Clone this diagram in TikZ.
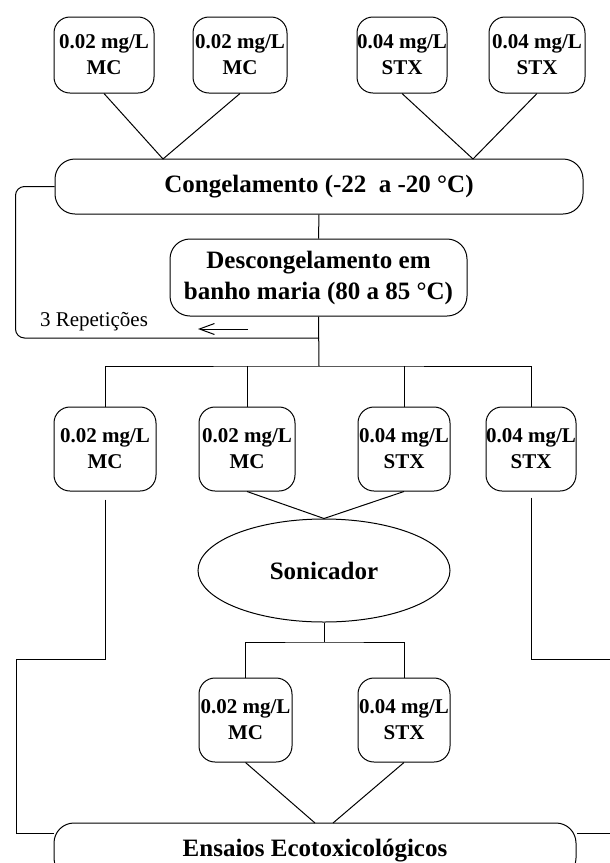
\documentclass[tikz,border=0pt]{standalone}
\usepackage{fontspec}
\setmainfont{Liberation Serif}
\usetikzlibrary{shapes.geometric,arrows.meta}

\begin{document}
\begin{tikzpicture}[
    x=1pt, y=-1pt,
    sample/.style={
        rectangle,
        rounded corners=16pt,
        minimum width=94pt,
        minimum height=80pt,
        inner sep=0pt,
        draw,
        line width=1pt,
        font=\fontsize{21}{26}\selectfont\bfseries,
        align=center
    },
    stage/.style={
        rectangle,
        rounded corners=20pt,
        inner sep=0pt,
        draw,
        line width=1pt,
        font=\fontsize{25}{31}\selectfont\bfseries,
        align=center
    },
    link/.style={line width=1pt}
]
\useasboundingbox (0,0) rectangle (610,863);
\clip (0,0) rectangle (610,863);

% Samples before freezing
\node[sample, minimum width=100pt, minimum height=76pt] (t1) at (104,55) {0.02 mg/L\\MC};
\node[sample, minimum height=76pt] (t2) at (240,55) {0.02 mg/L\\MC};
\node[sample, minimum width=90pt, minimum height=76pt] (t3) at (402,55) {0.04 mg/L\\STX};
\node[sample, minimum width=96pt, minimum height=76pt] (t4) at (537,55) {0.04 mg/L\\STX};

% Freeze / thaw
\node[stage, minimum width=528pt, minimum height=55pt] (cg) at (319,186.5) {Congelamento (-22\ \ a -20 °C)};
\node[stage, minimum width=297pt, minimum height=77pt] (ds) at (318.5,277.5) {Descongelamento em\\banho maria (80 a 85 °C)};
\node[font=\fontsize{21}{24}\selectfont] (reps) at (94,322) {3 Repetições};

% Samples after thawing
\node[sample, minimum width=102pt, minimum height=84pt] (m1) at (105,449) {0.02 mg/L\\MC};
\node[sample, minimum width=96pt, minimum height=84pt] (m2) at (247,449) {0.02 mg/L\\MC};
\node[sample, minimum width=92pt, minimum height=84pt] (m3) at (404,449) {0.04 mg/L\\STX};
\node[sample, minimum width=90pt, minimum height=84pt] (m4) at (531,449) {0.04 mg/L\\STX};

% Sonication
\node[ellipse, draw, line width=1pt, minimum width=252pt, minimum height=103pt,
      font=\fontsize{25}{31}\selectfont\bfseries] (son) at (324,570.5) {Sonicador};
\node[sample, minimum width=93pt, minimum height=84pt] (b1) at (245.5,720) {0.02 mg/L\\MC};
\node[sample, minimum width=92pt, minimum height=84pt] (b2) at (404,720) {0.04 mg/L\\STX};

% Tests
\node[stage, minimum width=522pt, minimum height=55pt] (en) at (315,850.5) {Ensaios Ecotoxicológicos};

% Join points
\coordinate (v1) at (163,159);
\coordinate (v2) at (473,159);
\coordinate (rep) at (319,338);
\coordinate (bus) at (319,366);
\coordinate (sbus) at (324,642);
\coordinate (e1) at (315,823);
\coordinate (e2) at (333,823);
\coordinate (a1) at (248,329);
\coordinate (a2) at (198,329);

% Connectors
\draw[link] (t1.south) -- (v1) -- (t2.south);
\draw[link] (t3.south) -- (v2) -- (t4.south);
\draw[link] (cg.south) -- (ds.north);
\draw[link, rounded corners=9pt] (cg.west) -- ++(-39,0) |- (rep);
\draw[link] (ds.south) -- (bus);
\draw[link] (m1.north) |- (bus) -| (m4.north);
\draw[link] (m2.north) -- (m2.north |- bus);
\draw[link] (m3.north) -- (m3.north |- bus);
\draw[link, -{Straight Barb[length=15pt, width=11pt]}] (a1) -- (a2);
\draw[link] (m2.south) -- (son.north) -- (m3.south);
\draw[link] (son.south) -- (sbus);
\draw[link] (b1.north) |- (sbus) -| (b2.north);
\draw[link] (b1.south) -- (e1);
\draw[link] (b2.south) -- (e2);
\draw[link, shorten <=8pt] (m1.south) |- (16,659) |- (en.west |- 0,833);
\draw[link, shorten <=6pt] (m4.south) |- (620,659) |- (en.east |- 0,833);

\end{tikzpicture}
\end{document}
